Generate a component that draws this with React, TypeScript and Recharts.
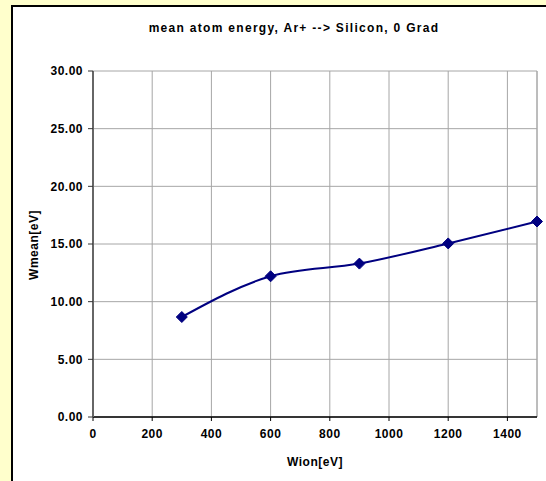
import { LineChart, Line, XAxis, YAxis, CartesianGrid, ReferenceLine } from "recharts";

const ionEnergy = [300, 600, 900, 1200, 1500];
const meanEnergy = [8.67, 12.2, 13.3, 15.05, 16.95];
const xTicks = [0, 200, 400, 600, 800, 1000, 1200, 1400];
const yTicks = [0, 5, 10, 15, 20, 25, 30];

const data = ionEnergy.map((x, i) => ({ x, y: meanEnergy[i] }));

const font = "'Liberation Sans', Arial, sans-serif";

// diamond marker, as in the old excel chart
const Diamond = (props: any) => {
  const { cx, cy } = props;
  if (cx == null || cy == null) return null;
  const r = 5.5;
  return (
    <polygon
      points={`${cx},${cy - r} ${cx + r},${cy} ${cx},${cy + r} ${cx - r},${cy}`}
      fill="#000080"
      stroke="#000080"
    />
  );
};

export default function App() {
  const tickStyle = {
    fill: "#000",
    fontSize: 12,
    fontWeight: "bold" as const,
    fontFamily: font,
    letterSpacing: 0.5,
  };

  return (
    <div
      style={{
        position: "absolute",
        left: 0,
        top: 0,
        width: 546,
        height: 481,
        background: "#FFFFCC",
        overflow: "hidden",
      }}
    >
      <div
        style={{
          position: "absolute",
          left: 11,
          top: 5,
          width: 560,
          height: 500,
          borderLeft: "2px solid #000",
          borderTop: "2px solid #000",
          background: "#fff",
        }}
      />
      <div
        style={{
          position: "absolute",
          left: 0,
          width: 588,
          top: 21,
          textAlign: "center",
          fontFamily: font,
          fontWeight: "bold",
          fontSize: 12,
          letterSpacing: 1.3,
          color: "#000",
        }}
      >
        mean atom energy, Ar+ --&gt; Silicon, 0 Grad
      </div>
      <div
        style={{
          position: "absolute",
          left: 255,
          width: 120,
          top: 455,
          textAlign: "center",
          fontFamily: font,
          fontWeight: "bold",
          fontSize: 12,
          letterSpacing: 0.5,
          color: "#000",
        }}
      >
        Wion[eV]
      </div>
      <div
        style={{
          position: "absolute",
          left: -26,
          width: 120,
          top: 238,
          textAlign: "center",
          transform: "rotate(-90deg)",
          fontFamily: font,
          fontWeight: "bold",
          fontSize: 12,
          letterSpacing: 0.5,
          color: "#000",
        }}
      >
        Wmean[eV]
      </div>
      <div style={{ position: "absolute", left: 0, top: 0 }}>
        <LineChart
          width={546}
          height={481}
          data={data}
          margin={{ top: 71, right: 9, bottom: 34, left: 33 }}
        >
          <CartesianGrid stroke="#A6A6A6" strokeWidth={1} />
          <XAxis
            dataKey="x"
            type="number"
            domain={[0, 1500]}
            ticks={xTicks}
            interval={0}
            height={30}
            tickSize={4}
            tickMargin={8}
            tick={tickStyle}
            stroke="#000"
            axisLine={{ stroke: "#000", strokeWidth: 1.5 }}
            tickLine={{ stroke: "#000" }}
          />
          <YAxis
            type="number"
            domain={[0, 30]}
            ticks={yTicks}
            interval={0}
            width={60}
            tickSize={5}
            tickMargin={5}
            tick={tickStyle}
            tickFormatter={(v) => Number(v).toFixed(2)}
            axisLine={{ stroke: "#666", strokeWidth: 2 }}
            tickLine={{ stroke: "#333" }}
          />
          <ReferenceLine x={1500} stroke="#A6A6A6" />
          <Line
            type="monotone"
            dataKey="y"
            stroke="#000080"
            strokeWidth={2}
            dot={<Diamond />}
            activeDot={false}
            isAnimationActive={false}
          />
        </LineChart>
      </div>
    </div>
  );
}
